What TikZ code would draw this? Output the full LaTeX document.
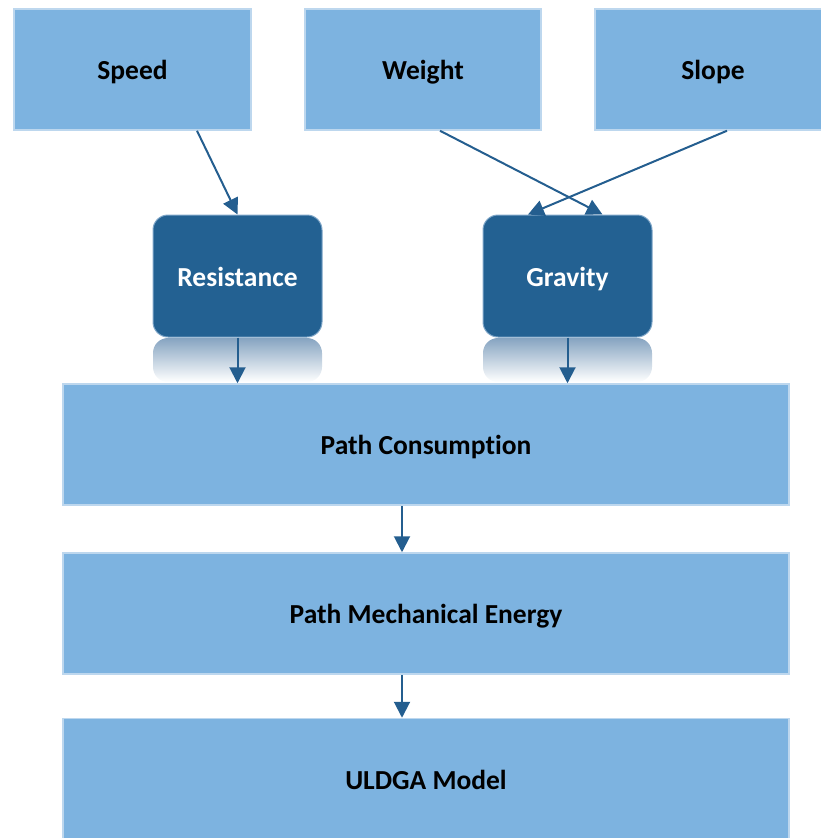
\documentclass[tikz,border=0pt]{standalone}
\usepackage{fontspec}
\setmainfont{Carlito}[RawFeature=-liga]
\usetikzlibrary{arrows.meta}
\definecolor{boxfill}{HTML}{7DB3E0}
\definecolor{boxline}{HTML}{BDD7EE}
\definecolor{darkfill}{HTML}{236192}
\definecolor{darkline}{HTML}{7FA6C8}
\definecolor{arrc}{HTML}{245E8F}
\definecolor{reflc}{HTML}{86A4C1}
\begin{document}
\begin{tikzpicture}[x=1pt,y=-1pt,
  lightbox/.style={draw=boxline, line width=1.5pt, fill=boxfill, inner sep=0pt,
    minimum height=121pt, text height=22pt, text depth=2pt, text=black,
    font=\fontsize{27.5}{31}\selectfont\bfseries},
  darkbox/.style={draw=darkline, line width=1pt, fill=darkfill, inner sep=0pt,
    rounded corners=15pt, minimum width=169pt, minimum height=122pt,
    text height=22pt, text depth=2pt,
    text=white, font=\fontsize{27.5}{31}\selectfont\bfseries},
  arr/.style={draw=arrc, line width=2pt, -{Triangle[length=16pt,width=16pt]}}]
\useasboundingbox (0,0) rectangle (821,838);
% top row
\node[lightbox, minimum width=237pt] (speed) at (132.5,69.5) {Speed};
\node[lightbox, minimum width=236pt] (weight) at (423,69.5) {Weight};
\node[lightbox, minimum width=236pt] (slope) at (713,69.5) {Slope};
% reflections
\shade[top color=reflc, bottom color=white, rounded corners=15pt]
  (153,382) -- (153,338) -- (322,338) -- (322,382) -- cycle;
\shade[top color=reflc, bottom color=white, rounded corners=15pt]
  (483,382) -- (483,338) -- (652,338) -- (652,382) -- cycle;
% middle row
\node[darkbox] (res) at (237.5,276) {Resistance};
\node[darkbox] (grav) at (567.5,276) {Gravity};
% lower boxes
\node[lightbox, minimum width=726pt] (pc) at (426,444.5) {Path Consumption};
\node[lightbox, minimum width=726pt] (pme) at (426,613.5) {Path Mechanical Energy};
\node[lightbox, minimum width=726pt] (uldga) at (426,779) {ULDGA Model};
% connectors
\draw[arr] ([xshift=64.5pt]speed.south) -- (res.north);
\draw[arr] ([xshift=17pt]weight.south) -- ([xshift=35pt]grav.north);
\draw[arr] ([xshift=14pt]slope.south) -- ([xshift=-39.5pt]grav.north);
\draw[arr] (res.south) -- (res.south |- pc.north);
\draw[arr] (grav.south) -- (grav.south |- pc.north);
\draw[arr] ([xshift=-24pt]pc.south) -- ([xshift=-24pt]pme.north);
\draw[arr] ([xshift=-24pt]pme.south) -- ([xshift=-24pt]uldga.north);
\end{tikzpicture}
\end{document}
